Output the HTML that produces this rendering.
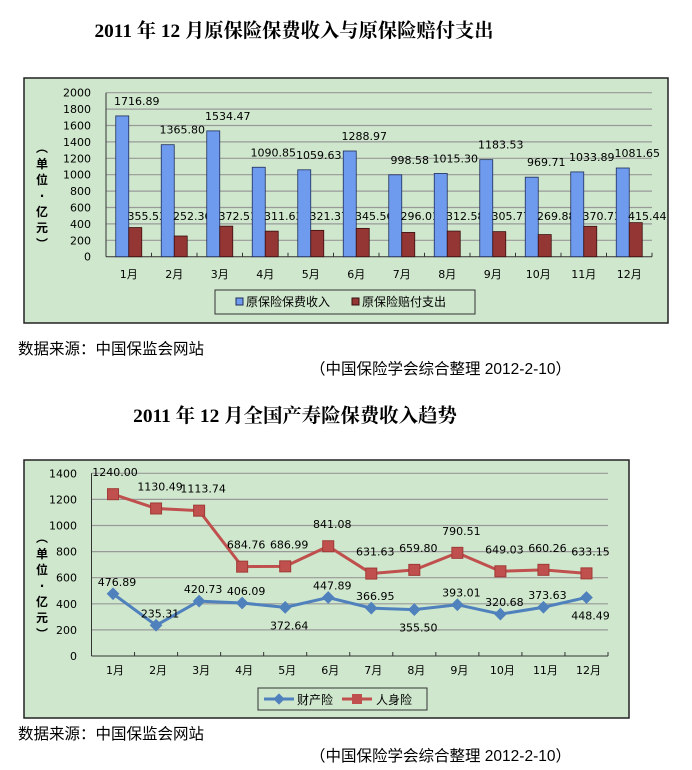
<!DOCTYPE html>
<html><head><meta charset="utf-8"><style>
body{margin:0;background:#fff;width:692px;height:770px;overflow:hidden}
svg{display:block}
</style></head><body>
<svg width="692" height="770" xmlns="http://www.w3.org/2000/svg" font-family="DejaVu Sans, Noto Sans CJK SC, sans-serif">
<text x="294" y="37" text-anchor="middle" font-family="Liberation Serif, Noto Serif CJK SC, serif" font-weight="bold" font-size="19.3">2011 年 12 月原保险保费收入与原保险赔付支出</text>
<rect x="24" y="78" width="644" height="245" fill="#cfe7cd" stroke="#222" stroke-width="1.5"/>
<g id="c1"></g>
<text x="18" y="354" font-size="15.5" font-family="Liberation Sans, Noto Sans CJK SC, sans-serif">数据来源：中国保监会网站</text>
<text x="310" y="374" font-size="15.5" font-family="Liberation Sans, Noto Sans CJK SC, sans-serif">（中国保险学会综合整理  2012-2-10）</text>
<text x="295" y="422" text-anchor="middle" font-family="Liberation Serif, Noto Serif CJK SC, serif" font-weight="bold" font-size="19.4">2011 年 12 月全国产寿险保费收入趋势</text>
<rect x="24" y="460" width="605" height="258" fill="#cfe7cd" stroke="#222" stroke-width="1.5"/>
<g id="c2"></g>
<text x="18" y="739" font-size="15.5" font-family="Liberation Sans, Noto Sans CJK SC, sans-serif">数据来源：中国保监会网站</text>
<text x="310" y="761" font-size="15.5" font-family="Liberation Sans, Noto Sans CJK SC, sans-serif">（中国保险学会综合整理  2012-2-10）</text>
</svg>
<script>
var NS="http://www.w3.org/2000/svg";
function el(p,t,a,txt){var e=document.createElementNS(NS,t);for(var k in a)e.setAttribute(k,a[k]);if(txt!=null)e.textContent=txt;p.appendChild(e);return e;}
var g=document.getElementById('c1');
var L=106,R=652,T=92.7,B=256.7,cw=(R-L)/12;
function y1(v){return B-v*0.082;}
for(var v=0;v<=2000;v+=200){var y=y1(v);
 if(v>0)el(g,'line',{x1:L,x2:R,y1:y,y2:y,stroke:'#999','stroke-width':1.2});
 el(g,'text',{x:91,y:y+4,'text-anchor':'end','font-size':11},v);}
el(g,'line',{x1:L,x2:L,y1:T,y2:B,stroke:'#333'});
el(g,'line',{x1:L,x2:R,y1:B,y2:B,stroke:'#333'});
var b=[1716.89,1365.80,1534.47,1090.85,1059.63,1288.97,998.58,1015.30,1183.53,969.71,1033.89,1081.65];
var r=[355.53,252.36,372.51,311.63,321.37,345.56,296.01,312.58,305.77,269.88,370.73,415.44];
for(var i=0;i<12;i++){var c=L+cw*(i+0.5);
 el(g,'line',{x1:L+cw*(i+1),x2:L+cw*(i+1),y1:B,y2:B-4,stroke:'#333'});
 el(g,'rect',{x:c-13,y:y1(b[i]),width:13,height:B-y1(b[i]),fill:'#6f9bef',stroke:'#1f2d5a','stroke-width':0.8});
 el(g,'rect',{x:c,y:y1(r[i]),width:13,height:B-y1(r[i]),fill:'#943634',stroke:'#3a1010','stroke-width':0.8});
 el(g,'text',{x:c+8,y:y1(b[i])-11,'text-anchor':'middle','font-size':11},b[i].toFixed(2));
 el(g,'text',{x:c+18,y:220,'text-anchor':'middle','font-size':11},r[i].toFixed(2));
 el(g,'text',{x:c,y:278,'text-anchor':'middle','font-size':11},(i+1)+'月');}
var ax=['︵','单','位','：','亿','元','︶'];
for(var k=0;k<7;k++)el(g,'text',{x:42,y:152+k*16,'text-anchor':'middle','font-size':12,'font-weight':'bold'},ax[k]==='：'?'·':ax[k]);
el(g,'rect',{x:215,y:290,width:260,height:24,fill:'#cfe7cd',stroke:'#333'});
el(g,'rect',{x:236,y:298,width:7,height:7,fill:'#6f9bef',stroke:'#1f2d5a'});
el(g,'text',{x:246,y:306,'font-size':12},'原保险保费收入');
el(g,'rect',{x:352,y:298,width:7,height:7,fill:'#943634',stroke:'#3a1010'});
el(g,'text',{x:362,y:306,'font-size':12},'原保险赔付支出');
g=document.getElementById('c2');
L=91.5;R=608;T=473.3;B=656;cw=(R-L)/12;
function y2(v){return B-v*0.1305;}
for(var v=0;v<=1400;v+=200){var y=y2(v);
 if(v>0)el(g,'line',{x1:L,x2:R,y1:y,y2:y,stroke:'#999','stroke-width':1.2});
 el(g,'text',{x:77,y:y+4,'text-anchor':'end','font-size':11},v);}
el(g,'line',{x1:L,x2:L,y1:T,y2:B,stroke:'#333'});
el(g,'line',{x1:L,x2:R,y1:B,y2:B,stroke:'#333'});
var p=[476.89,235.31,420.73,406.09,372.64,447.89,366.95,355.50,393.01,320.68,373.63,448.49];
var s=[1240.00,1130.49,1113.74,684.76,686.99,841.08,631.63,659.80,790.51,649.03,660.26,633.15];
var pb=[0,0,0,0,1,0,0,1,0,0,0,1];
var pp='',sp='';
for(var i=0;i<12;i++){var c=L+cw*(i+0.5);
 el(g,'line',{x1:L+cw*(i+1),x2:L+cw*(i+1),y1:B,y2:B-4,stroke:'#333'});
 pp+=c+','+y2(p[i])+' ';sp+=c+','+y2(s[i])+' ';
 el(g,'text',{x:c+2,y:674,'text-anchor':'middle','font-size':11},(i+1)+'月');}
el(g,'polyline',{points:sp,fill:'none',stroke:'#c0504d','stroke-width':3});
el(g,'polyline',{points:pp,fill:'none',stroke:'#4f81bd','stroke-width':3});
for(var i=0;i<12;i++){var c=L+cw*(i+0.5);
 var ys=y2(s[i]),yp=y2(p[i]);
 el(g,'rect',{x:c-5.5,y:ys-5.5,width:11,height:11,fill:'#c0504d',stroke:'#a03a37'});
 el(g,'rect',{x:c-4.5,y:yp-4.5,width:9,height:9,fill:'#4f81bd',transform:'rotate(45 '+c+' '+yp+')'});
 el(g,'text',{x:c+(i==0?2:4),y:ys-18,'text-anchor':'middle','font-size':11},s[i].toFixed(2));
 el(g,'text',{x:c+4,y:pb[i]?yp+22:yp-8,'text-anchor':'middle','font-size':11},p[i].toFixed(2));}
for(var k=0;k<7;k++)el(g,'text',{x:42,y:542+k*16,'text-anchor':'middle','font-size':12,'font-weight':'bold'},ax[k]==='：'?'·':ax[k]);
el(g,'rect',{x:258,y:688,width:169,height:22,fill:'#cfe7cd',stroke:'#333'});
el(g,'line',{x1:264,x2:294,y1:699,y2:699,stroke:'#4f81bd','stroke-width':3});
el(g,'rect',{x:275,y:695,width:8,height:8,fill:'#4f81bd',transform:'rotate(45 279 699)'});
el(g,'text',{x:297,y:704,'font-size':12},'财产险');
el(g,'line',{x1:342,x2:372,y1:699,y2:699,stroke:'#c0504d','stroke-width':3});
el(g,'rect',{x:352,y:694,width:10,height:10,fill:'#c0504d'});
el(g,'text',{x:376,y:704,'font-size':12},'人身险');
</script>
</body></html>
